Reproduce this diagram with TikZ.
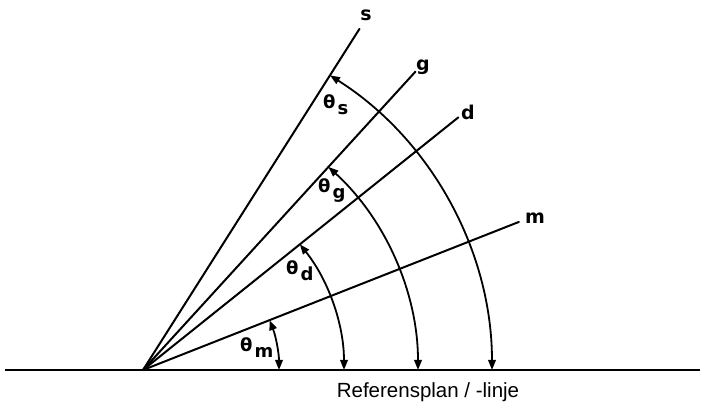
\documentclass[tikz,border=0pt]{standalone}
\usepackage{fontspec}
\setmainfont{DejaVu Sans}
\newfontfamily\reffont{Liberation Sans}
\usepackage{tikz}
\usetikzlibrary{arrows.meta,positioning,calc}
\newcommand{\angsub}[1]{θ\kern2pt\raisebox{-6pt}{#1}}

\begin{document}
\begin{tikzpicture}[
        x=1pt, y=1pt,
        ray/.style={line width=2pt, line cap=round},
        base/.style={line width=2pt},
        angarr/.style={line width=1.8pt, {Triangle[length=10pt,width=7.5pt]}-{Triangle[length=10pt,width=7.5pt]}},
        lbl/.style={font=\fontsize{19}{19}\selectfont\bfseries, inner sep=0pt},
        anglbl/.style={font=\fontsize{18}{18}\selectfont\bfseries, inner sep=0pt, anchor=west}
    ]
        \useasboundingbox (0,0) rectangle (702,407);

        % Coordinates
        \coordinate (O) at (143,37);
        \coordinate (baseL) at (5,37);
        \coordinate (baseR) at (700,37);
        \coordinate (sEnd) at ([shift={(57.6:404)}]O);
        \coordinate (gEnd) at ([shift={(47.6:404)}]O);
        \coordinate (dEnd) at ([shift={(38.7:404)}]O);
        \coordinate (mEnd) at ([shift={(21.5:404)}]O);

        % Nodes
        \node[lbl] (s) at (366,392) {s};
        \node[lbl] (g) at (423,340) {g};
        \node[lbl] (d) at (468,295) {d};
        \node[lbl] (m) at (535,189) {m};

        \node[anglbl] (ths) at (323,302) {\angsub{s}};
        \node[anglbl] (thg) at (318,216) {\angsub{g}};
        \node[anglbl] (thd) at (286,136) {\angsub{d}};
        \node[anglbl] (thm) at (240,59) {\angsub{m}};

        \node[font=\reffont\fontsize{20.5}{21}\selectfont, inner sep=0pt] (ref) at (428,15) {Referensplan / -linje};

        % Connectors
        \draw[base] (baseL) -- (baseR);
        \draw[ray] (O) -- (sEnd);
        \draw[ray] (O) -- (gEnd);
        \draw[ray] (O) -- (dEnd);
        \draw[ray] (O) -- (mEnd);

        \draw[angarr] ([shift={(0:136)}]O) arc[start angle=0, end angle=21.5, radius=136];
        \draw[angarr] ([shift={(0:201)}]O) arc[start angle=0, end angle=38.7, radius=201];
        \draw[angarr] ([shift={(0:275)}]O) arc[start angle=0, end angle=47.6, radius=275];
        \draw[angarr] ([shift={(0:349)}]O) arc[start angle=0, end angle=57.6, radius=349];
    \end{tikzpicture}
\end{document}
